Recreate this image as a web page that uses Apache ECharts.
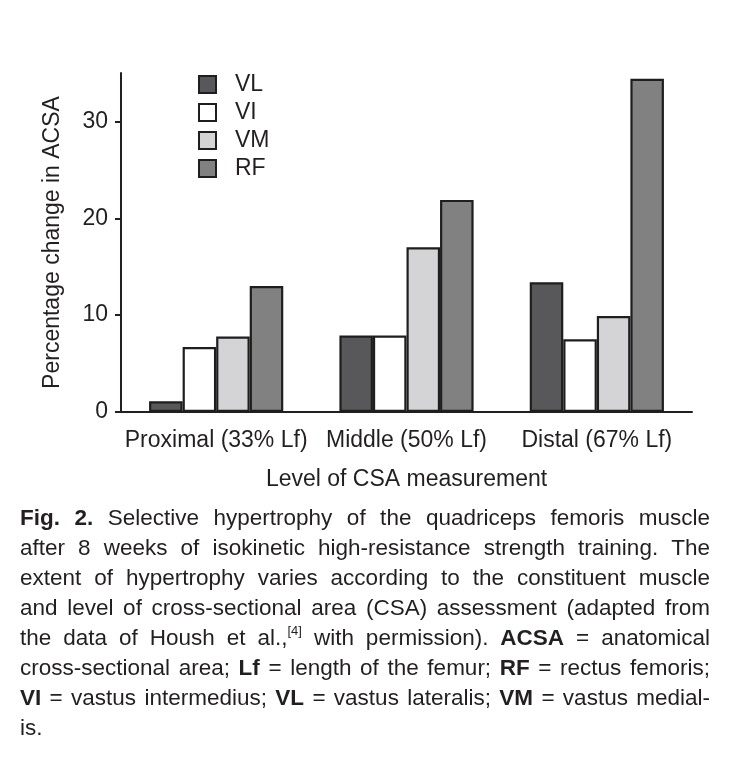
<!DOCTYPE html>
<html>
<head>
<meta charset="utf-8">
<script src="https://cdn.jsdelivr.net/npm/echarts@6/dist/echarts.min.js"></script>
<style>
html,body{margin:0;padding:0;background:#fff;}
#chart{width:744px;height:762px;}
</style>
</head>
<body>
<div id="chart"></div>
<script>
// ---- data ----
const categories = ['Proximal (33% Lf)', 'Middle (50% Lf)', 'Distal (67% Lf)'];
const seriesNames = ['VL', 'VI', 'VM', 'RF'];
const VL = [1.1, 7.9, 13.4];
const VI = [6.7, 7.9, 7.5];
const VM = [7.8, 17.0, 9.9];
const RF = [13.0, 21.9, 34.4];
const yTicks = [0, 10, 20, 30];
const yAxisTitle = 'Percentage change in ACSA';
const xAxisTitle = 'Level of CSA measurement';
const captionLines = [
  '**Fig.** **2.** Selective hypertrophy of the quadriceps femoris muscle',
  'after 8 weeks of isokinetic high-resistance strength training. The',
  'extent of hypertrophy varies according to the constituent muscle',
  'and level of cross-sectional area (CSA) assessment (adapted from',
  'the data of Housh et al.,^[4]^ with permission). **ACSA** = anatomical',
  'cross-sectional area; **Lf** = length of the femur; **RF** = rectus femoris;',
  '**VI** = vastus intermedius; **VL** = vastus lateralis; **VM** = vastus medial-',
  'is.'
];

// ---- styles ----
const FONT = '"Liberation Sans", Arial, Helvetica, sans-serif';
const INK = '#231f20';
const fills = ['#58585a', '#ffffff', '#d4d4d6', '#818181'];
const values = [VL, VI, VM, RF];
const FS = 23;

// ---- caption layout (justified) ----
const cv = document.createElement('canvas').getContext('2d');
function fontStr(bold, size) { return (bold ? 'bold ' : '') + size + 'px ' + FONT; }
const CAP_SIZE = 22.5, SUP_SIZE = 13;
const CAP_LEFT = 20, CAP_RIGHT = 710;
const capY0 = 519, capDY = 29.9;
function parseWord(w) {
  const segs = [];
  const re = /(\*\*[^*]+\*\*|\^[^^]+\^|[^*^]+)/g;
  let m;
  while ((m = re.exec(w)) !== null) {
    const s = m[0];
    if (s.startsWith('**')) segs.push({t: s.slice(2, -2), b: true, sup: false});
    else if (s.startsWith('^')) segs.push({t: s.slice(1, -1), b: false, sup: true});
    else segs.push({t: s, b: false, sup: false});
  }
  segs.forEach(sg => {
    cv.font = fontStr(sg.b, sg.sup ? SUP_SIZE : CAP_SIZE);
    sg.w = cv.measureText(sg.t).width;
  });
  return segs;
}
const captionEls = [];
captionLines.forEach((line, li) => {
  const words = line.split(' ').map(parseWord);
  const widths = words.map(ws => ws.reduce((a, s) => a + s.w, 0));
  const total = widths.reduce((a, b) => a + b, 0);
  const last = li === captionLines.length - 1;
  cv.font = fontStr(false, CAP_SIZE);
  const gap = last ? cv.measureText(' ').width : (CAP_RIGHT - CAP_LEFT - total) / (words.length - 1);
  let x = CAP_LEFT;
  const y = capY0 + li * capDY;
  words.forEach((ws, wi) => {
    ws.forEach(sg => {
      captionEls.push({
        type: 'text', x: x, y: sg.sup ? y - 7 : y, silent: true,
        style: {
          text: sg.t, fill: INK, fontFamily: FONT,
          fontSize: sg.sup ? SUP_SIZE : CAP_SIZE,
          fontWeight: sg.b ? 'bold' : 'normal',
          align: 'left', verticalAlign: 'middle'
        }
      });
      x += sg.w;
    });
    x += gap;
  });
});

// ---- chart ----
const chart = echarts.init(document.getElementById('chart'), null, {renderer: 'canvas'});
const option = {
  backgroundColor: '#ffffff',
  animation: false,
  textStyle: {fontFamily: FONT, color: INK},
  grid: {left: 121, right: 52, top: 73, bottom: 350, containLabel: false},
  legend: {
    orient: 'vertical', left: 198, top: 73, padding: 0,
    itemWidth: 17, itemHeight: 17, itemGap: 5,
    icon: 'rect',
    selectedMode: false,
    data: seriesNames,
    textStyle: {fontSize: FS, color: INK, fontFamily: FONT, padding: [0, 0, 0, 14]},
    itemStyle: {borderColor: '#1e1e1e', borderWidth: 2}
  },
  xAxis: {
    type: 'category', data: categories,
    name: xAxisTitle, nameLocation: 'middle', nameGap: 56,
    nameTextStyle: {fontSize: FS, color: INK, fontFamily: FONT},
    axisLine: {show: true, lineStyle: {color: INK, width: 2}},
    axisTick: {show: false},
    axisLabel: {fontSize: FS, color: INK, fontFamily: FONT, margin: 17, interval: 0}
  },
  yAxis: {
    type: 'value', min: 0, max: 35, interval: 10,
    name: yAxisTitle, nameLocation: 'middle', nameGap: 57, nameRotate: 90,
    nameTextStyle: {fontSize: FS, color: INK, fontFamily: FONT},
    splitLine: {show: false},
    axisLine: {show: true, lineStyle: {color: INK, width: 2}},
    axisTick: {show: true, length: 6, inside: false, customValues: yTicks, lineStyle: {color: INK, width: 2}},
    axisLabel: {fontSize: FS, color: INK, fontFamily: FONT, margin: 13, customValues: yTicks}
  },
  series: seriesNames.map((n, i) => ({
    name: n, type: 'bar', data: values[i],
    barGap: '0%', barCategoryGap: '29.5%',
    itemStyle: {color: fills[i], borderColor: '#1e1e1e', borderWidth: 2.2}
  })),
  graphic: captionEls
};
chart.setOption(option);
</script>
</body>
</html>
